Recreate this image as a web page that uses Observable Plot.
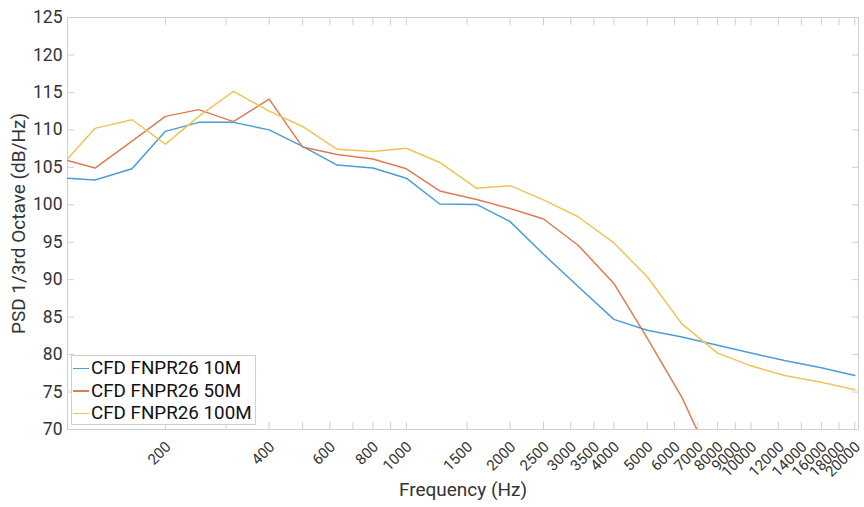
<!DOCTYPE html>
<html><head><meta charset="utf-8">
<script src="https://cdn.jsdelivr.net/npm/d3@7"></script>
<script src="https://cdn.jsdelivr.net/npm/@observablehq/plot@0.6"></script>
<style>
body{margin:0;background:#fff;}
#wrap{position:relative;width:864px;height:507px;font-family:Roboto,sans-serif;}
.legend{position:absolute;left:71px;top:355px;width:185px;height:70px;border:1px solid #cfcfcf;background:#fff;box-sizing:border-box;padding-top:1px;}
.row{display:flex;align-items:center;height:22.5px;font-size:18.8px;color:#111;white-space:nowrap;}
.sw{width:16px;height:1.5px;margin:0 2px 0 1px;flex:none;}
</style>
</head><body>
<div id="wrap"></div>
<script>
const frequencies = [104,125,160,200,250,315,400,500,630,800,1000,1250,1600,2000,2500,3150,4000,5000,6300,8000,10000,12500,16000,20000];
const seriesNames = ["CFD FNPR26 10M","CFD FNPR26 50M","CFD FNPR26 100M"];
const seriesColors = ["#4a9ed4","#dc7c56","#f0c357"];
const psd10M  = [103.55,103.3,104.8,109.8,111.0,111.0,110.0,107.8,105.3,104.9,103.55,100.1,100.05,97.75,93.4,89.1,84.7,83.25,82.35,81.25,80.2,79.2,78.25,77.2];
const psd50M  = [105.9,104.9,108.5,111.8,112.7,111.1,114.1,107.7,106.7,106.1,104.8,101.85,100.7,99.5,98.1,94.6,89.5,82.2,74.3,64.0];
const psd100M = [106.1,110.2,111.35,108.1,111.8,115.15,112.5,110.45,107.4,107.1,107.55,105.65,102.2,102.55,100.65,98.4,94.9,90.4,84.1,80.2,78.5,77.2,76.3,75.3];
const yTicks = [70,75,80,85,90,95,100,105,110,115,120,125];
const xLabelTicks = [200,400,600,800,1000,1500,2000,2500,3000,3500,4000,5000,6000,7000,8000,9000,10000,12000,14000,16000,18000,20000];
const xTicks = [200,300,400,500,600,700,800,900,1000,1500,2000,2500,3000,3500,4000,5000,6000,7000,8000,9000,10000,12000,14000,16000,18000,20000];

const allSeries = [psd10M, psd50M, psd100M];
const rows = allSeries.flatMap((vals, i) => vals.map((v, j) => ({f: frequencies[j], v, s: seriesNames[i]})));

const axisGray = "#cfcfcf";
const chart = Plot.plot({
  width: 864, height: 507,
  marginLeft: 67, marginRight: 6, marginTop: 17, marginBottom: 78,
  style: {fontFamily: "Roboto, sans-serif", fontSize: "16px", color: "#262626", background: "white"},
  x: {type: "log", domain: [104, 20500]},
  y: {domain: [70, 125]},
  color: {domain: seriesNames, range: seriesColors},
  marks: [
    Plot.frame({stroke: axisGray}),
    Plot.axisY(yTicks, {anchor: "left", tickSize: 0, tickPadding: 5, label: null, fill: "#333", fontSize: 17.5}),
    Plot.axisY(yTicks, {anchor: "left", tickSize: -7, fill: "none", stroke: axisGray, label: null}),
    Plot.axisY(yTicks, {anchor: "right", tickSize: -7, fill: "none", stroke: axisGray, label: null}),
    Plot.axisX(xTicks, {anchor: "bottom", tickSize: -7, fill: "none", stroke: axisGray, label: null}),
    Plot.axisX(xTicks, {anchor: "top", tickSize: -7, fill: "none", stroke: axisGray, label: null}),
    Plot.text(xLabelTicks, {x: d => d, text: d => String(d), frameAnchor: "bottom", textAnchor: "end", lineAnchor: "middle", rotate: -45, dx: 3, dy: 15, fontSize: 15, fill: "#333"}),
    Plot.line(rows, {x: "f", y: "v", stroke: "s", z: "s", clip: true, strokeWidth: 1.5}),
    Plot.text(["Frequency (Hz)"], {frameAnchor: "bottom", dy: 66, fontSize: 19, fill: "#333"}),
    Plot.text(["PSD 1/3rd Octave (dB/Hz)"], {frameAnchor: "left", textAnchor: "middle", dx: -49, rotate: -90, fontSize: 19, fill: "#333"})
  ]
});
const wrap = document.getElementById("wrap");
wrap.appendChild(chart);
const legend = document.createElement("div");
legend.className = "legend";
seriesNames.forEach((n, i) => {
  const r = document.createElement("div"); r.className = "row";
  const sw = document.createElement("span"); sw.className = "sw"; sw.style.background = seriesColors[i];
  const t = document.createElement("span"); t.textContent = n;
  r.appendChild(sw); r.appendChild(t); legend.appendChild(r);
});
wrap.appendChild(legend);
</script>
</body></html>
